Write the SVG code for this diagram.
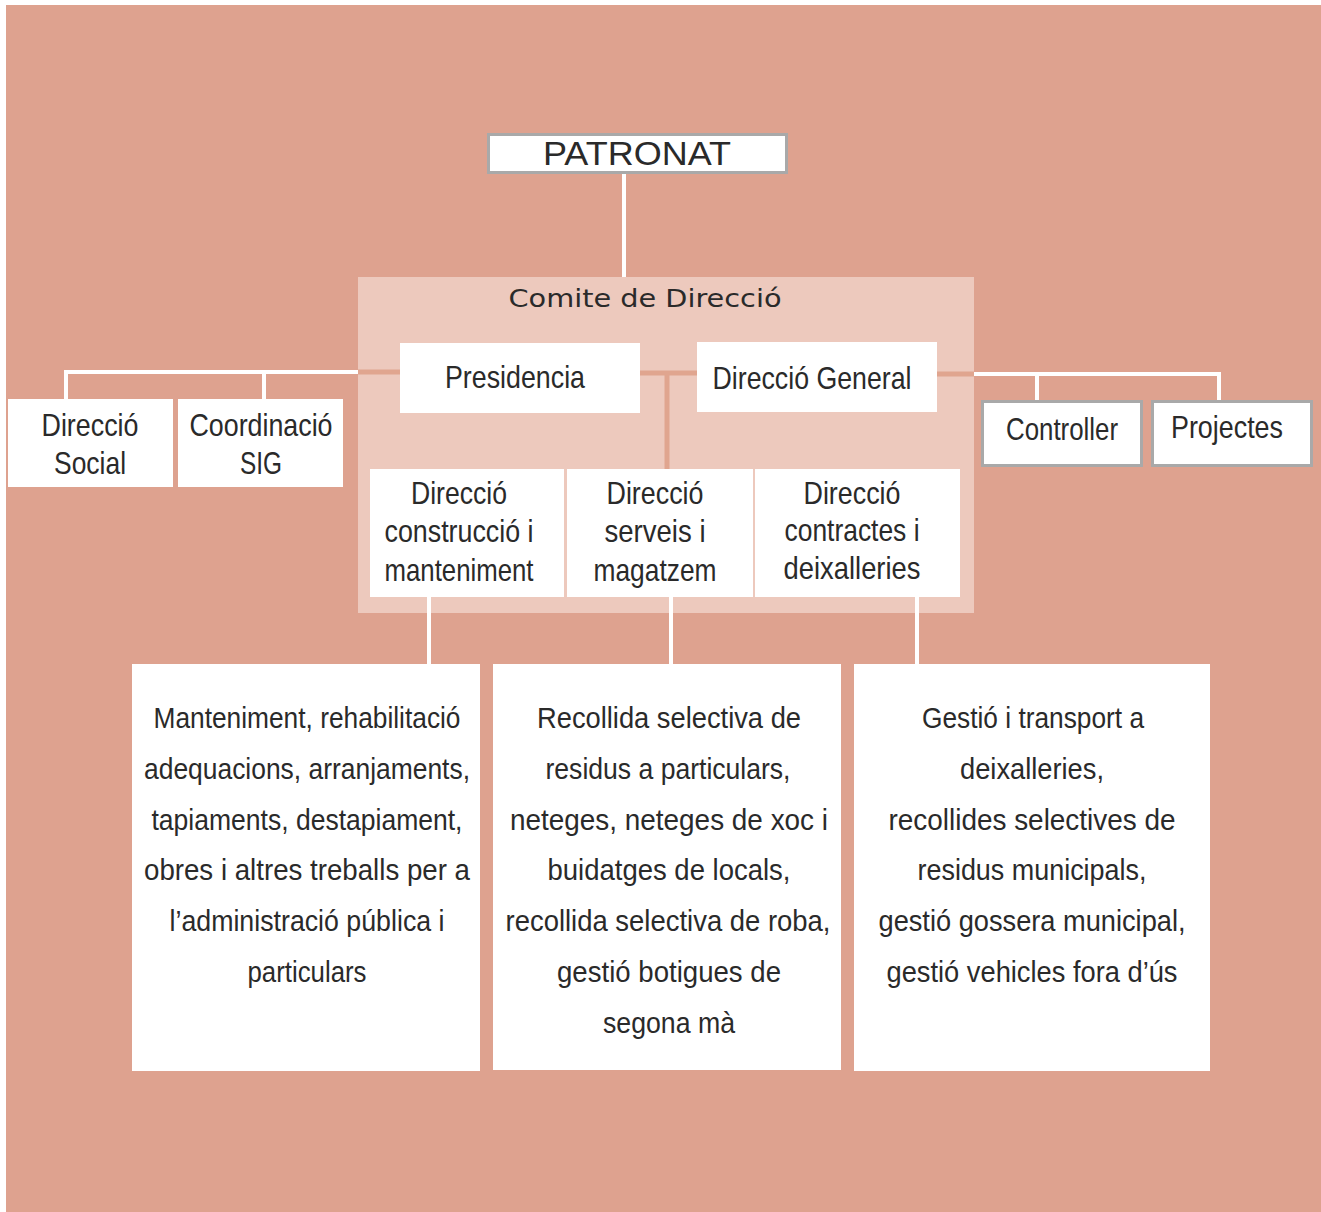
<svg xmlns="http://www.w3.org/2000/svg" width="1321" height="1212" viewBox="0 0 1321 1212">
<style>
.t{font-family:"Liberation Sans",Arial,sans-serif;fill:#2a2a2a;text-anchor:middle}
.m{font-size:32px}
.b{font-size:29px}
.w{fill:#ffffff}
.g{fill:#ffffff;stroke:#a9a9a9;stroke-width:3}
.cw{stroke:#ffffff;stroke-width:4;fill:none}
.cs{stroke:#e0a58f;stroke-width:5;fill:none}
</style>
<rect x="0" y="0" width="1321" height="1212" fill="#ffffff"/>
<rect x="6" y="5" width="1315" height="1207" fill="#dea28f"/>
<g id="comite">
<rect x="358" y="277" width="616" height="336" fill="#edc9bd"/>
<text x="645" y="307" font-family="'URW Gothic','DejaVu Sans','Liberation Sans',sans-serif" font-size="24" fill="#2a2a2a" text-anchor="middle" textLength="273" lengthAdjust="spacingAndGlyphs">Comite de Direcció</text>
</g>
<g id="connectors">
<line class="cw" x1="624" y1="173" x2="624" y2="277"/>
<polyline class="cw" points="358,372 66,372 66,399"/>
<line class="cw" x1="264" y1="372" x2="264" y2="399"/>
<line class="cs" x1="358" y1="372" x2="400" y2="372"/>
<line class="cs" x1="640" y1="373" x2="697" y2="373"/>
<line class="cs" x1="667" y1="373" x2="667" y2="469"/>
<line class="cs" x1="937" y1="374" x2="974" y2="374"/>
<polyline class="cw" points="974,374 1219,374 1219,400"/>
<line class="cw" x1="1037" y1="374" x2="1037" y2="400"/>
<line class="cw" x1="429" y1="597" x2="429" y2="664"/>
<line class="cw" x1="671" y1="597" x2="671" y2="664"/>
<line class="cw" x1="917" y1="597" x2="917" y2="664"/>
</g>
<g id="patronat">
<rect class="g" x="488.5" y="134.5" width="298" height="38"/>
<text x="637" y="165" font-family="'Liberation Sans',sans-serif" font-size="34" fill="#2a2a2a" text-anchor="middle" textLength="188" lengthAdjust="spacingAndGlyphs">PATRONAT</text>
</g>
<g id="presidencia">
<rect class="w" x="400" y="343" width="240" height="70"/>
<text class="t m" x="515" y="388" textLength="140" lengthAdjust="spacingAndGlyphs">Presidencia</text>
</g>
<g id="direccio-general">
<rect class="w" x="697" y="342" width="240" height="70"/>
<text class="t m" x="812" y="389" textLength="199" lengthAdjust="spacingAndGlyphs">Direcció General</text>
</g>
<g id="direccio-social">
<rect class="w" x="8" y="399" width="165" height="88"/>
<text class="t m" x="90" y="436" textLength="97" lengthAdjust="spacingAndGlyphs">Direcció</text>
<text class="t m" x="90" y="474" textLength="72" lengthAdjust="spacingAndGlyphs">Social</text>
</g>
<g id="coordinacio-sig">
<rect class="w" x="178" y="399" width="165" height="88"/>
<text class="t m" x="261" y="436" textLength="143" lengthAdjust="spacingAndGlyphs">Coordinació</text>
<text class="t m" x="261" y="474" textLength="42" lengthAdjust="spacingAndGlyphs">SIG</text>
</g>
<g id="controller">
<rect class="g" x="982.5" y="401.5" width="159" height="64"/>
<text class="t m" x="1062" y="440" textLength="112" lengthAdjust="spacingAndGlyphs">Controller</text>
</g>
<g id="projectes">
<rect class="g" x="1152.5" y="401.5" width="159" height="64"/>
<text class="t m" x="1227" y="438" textLength="112" lengthAdjust="spacingAndGlyphs">Projectes</text>
</g>
<g id="dir-construccio">
<rect class="w" x="370" y="469" width="194" height="128"/>
<text class="t m" x="459" y="504" textLength="96" lengthAdjust="spacingAndGlyphs">Direcció</text>
<text class="t m" x="459" y="542" textLength="149" lengthAdjust="spacingAndGlyphs">construcció i</text>
<text class="t m" x="459" y="581" textLength="149" lengthAdjust="spacingAndGlyphs">manteniment</text>
</g>
<g id="dir-serveis">
<rect class="w" x="567" y="469" width="186" height="128"/>
<text class="t m" x="655" y="504" textLength="97" lengthAdjust="spacingAndGlyphs">Direcció</text>
<text class="t m" x="655" y="542" textLength="101" lengthAdjust="spacingAndGlyphs">serveis i</text>
<text class="t m" x="655" y="581" textLength="123" lengthAdjust="spacingAndGlyphs">magatzem</text>
</g>
<g id="dir-contractes">
<rect class="w" x="755" y="469" width="205" height="128"/>
<text class="t m" x="852" y="504" textLength="97" lengthAdjust="spacingAndGlyphs">Direcció</text>
<text class="t m" x="852" y="541" textLength="135" lengthAdjust="spacingAndGlyphs">contractes i</text>
<text class="t m" x="852" y="579" textLength="137" lengthAdjust="spacingAndGlyphs">deixalleries</text>
</g>
<g id="tasques-manteniment">
<rect class="w" x="132" y="664" width="348" height="407"/>
<text class="t b" x="307" y="728" textLength="307" lengthAdjust="spacingAndGlyphs">Manteniment, rehabilitació</text>
<text class="t b" x="307" y="779" textLength="326" lengthAdjust="spacingAndGlyphs">adequacions, arranjaments,</text>
<text class="t b" x="307" y="830" textLength="311" lengthAdjust="spacingAndGlyphs">tapiaments, destapiament,</text>
<text class="t b" x="307" y="880" textLength="326" lengthAdjust="spacingAndGlyphs">obres i altres treballs per a</text>
<text class="t b" x="307" y="931" textLength="275" lengthAdjust="spacingAndGlyphs">l’administració pública i</text>
<text class="t b" x="307" y="982" textLength="119" lengthAdjust="spacingAndGlyphs">particulars</text>
</g>
<g id="tasques-serveis">
<rect class="w" x="493" y="664" width="348" height="406"/>
<text class="t b" x="669" y="728" textLength="264" lengthAdjust="spacingAndGlyphs">Recollida selectiva de</text>
<text class="t b" x="668" y="779" textLength="245" lengthAdjust="spacingAndGlyphs">residus a particulars,</text>
<text class="t b" x="669" y="830" textLength="318" lengthAdjust="spacingAndGlyphs">neteges, neteges de xoc i</text>
<text class="t b" x="669" y="880" textLength="243" lengthAdjust="spacingAndGlyphs">buidatges de locals,</text>
<text class="t b" x="668" y="931" textLength="325" lengthAdjust="spacingAndGlyphs">recollida selectiva de roba,</text>
<text class="t b" x="669" y="982" textLength="224" lengthAdjust="spacingAndGlyphs">gestió botigues de</text>
<text class="t b" x="669" y="1033" textLength="132" lengthAdjust="spacingAndGlyphs">segona mà</text>
</g>
<g id="tasques-contractes">
<rect class="w" x="854" y="664" width="356" height="407"/>
<text class="t b" x="1033" y="728" textLength="222" lengthAdjust="spacingAndGlyphs">Gestió i transport a</text>
<text class="t b" x="1032" y="779" textLength="144" lengthAdjust="spacingAndGlyphs">deixalleries,</text>
<text class="t b" x="1032" y="830" textLength="287" lengthAdjust="spacingAndGlyphs">recollides selectives de</text>
<text class="t b" x="1032" y="880" textLength="229" lengthAdjust="spacingAndGlyphs">residus municipals,</text>
<text class="t b" x="1032" y="931" textLength="307" lengthAdjust="spacingAndGlyphs">gestió gossera municipal,</text>
<text class="t b" x="1032" y="982" textLength="291" lengthAdjust="spacingAndGlyphs">gestió vehicles fora d’ús</text>
</g>
</svg>
